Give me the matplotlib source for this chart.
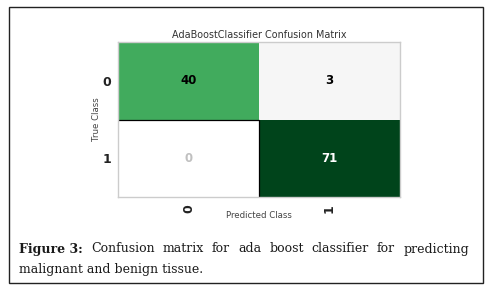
import numpy as np
import matplotlib
matplotlib.use("Agg")
import matplotlib.pyplot as plt
from matplotlib.colors import LinearSegmentedColormap
from matplotlib.patches import Rectangle

classes = ["0", "1"]
cm = np.array([[40, 3],
               [0, 71]])
title = "AdaBoostClassifier Confusion Matrix"
caption_bold = "Figure 3:"
caption_line1 = "Confusion matrix for ada boost classifier for predicting"
caption_line2 = "malignant and benign tissue."

W, H = 489, 295
fig = plt.figure(figsize=(W / 100, H / 100), dpi=100)
fig.patch.set_facecolor("white")

# outer frame of the figure box
fig.add_artist(Rectangle((9 / W, 1 - 283 / H), 474 / W, 276 / H,
                         transform=fig.transFigure, fill=False,
                         ec="#222222", lw=1.0))

ax = fig.add_axes([118 / W, 1 - 197 / H, 282 / W, 155 / H])
vmax = cm.max()
cmap = LinearSegmentedColormap.from_list(
    "cm", [(0, "#ffffff"), (3 / vmax, "#f5f5f5"),
           (40 / vmax, "#41ab5d"), (1, "#00441b")])
ax.pcolormesh(cm, cmap=cmap, vmin=0, vmax=vmax)
ax.set_xlim(0, 2)
ax.set_ylim(2, 0)

# thin dark edge around the empty cell (top and right only show)
ax.plot([0, 1, 1], [1, 1, 2], color="black", lw=0.9, zorder=2)

for i in range(2):
    for j in range(2):
        v = cm[i, j]
        if v == 0:
            c = "#c0c0c0"
        elif v / vmax > 0.7:
            c = "white"
        else:
            c = "black"
        ax.text(j + 0.5, i + 0.5, str(v), ha="center", va="center",
                fontsize=8.5, fontweight="bold", color=c)

ax.set_xticks([0.5, 1.5])
ax.set_yticks([0.5, 1.5])
ax.set_xticklabels(classes, rotation=90, fontsize=9, fontweight="bold", color="#222222")
ax.set_yticklabels(classes, fontsize=9, fontweight="bold", color="#222222")
ax.tick_params(length=0, pad=5)
for s in ax.spines.values():
    s.set_color("#cccccc")
    s.set_linewidth(1.0)
    s.set_zorder(3)

ax.set_title(title, fontsize=6.9, color="#333333", pad=3)
ax.set_xlabel("Predicted Class", fontsize=6.2, color="#444444", labelpad=-1)
ax.set_ylabel("True Class", fontsize=6.2, color="#444444", labelpad=1)

# caption, justified on the first line
serif = "DejaVu Serif"
fs = 9.0
x0, x1 = 19 / W, 469 / W
y1, y2 = 1 - 249 / H, 1 - 269 / H
fig.canvas.draw()
r = fig.canvas.get_renderer()
words = [(caption_bold, "bold")] + [(w, "normal") for w in caption_line1.split()]
arts = []
for w, fw in words:
    t = fig.text(0, y1, w, fontsize=fs, fontfamily=serif, fontweight=fw,
                 color="#1a1a1a", va="center")
    arts.append(t)
widths = [t.get_window_extent(r).width / W for t in arts]
gap = (x1 - x0 - sum(widths)) / (len(arts) - 1)
x = x0
for t, wd in zip(arts, widths):
    t.set_x(x)
    x += wd + gap
fig.text(x0, y2, caption_line2, fontsize=fs, fontfamily=serif,
         color="#1a1a1a", va="center")

fig.savefig("out.png", dpi=100)
